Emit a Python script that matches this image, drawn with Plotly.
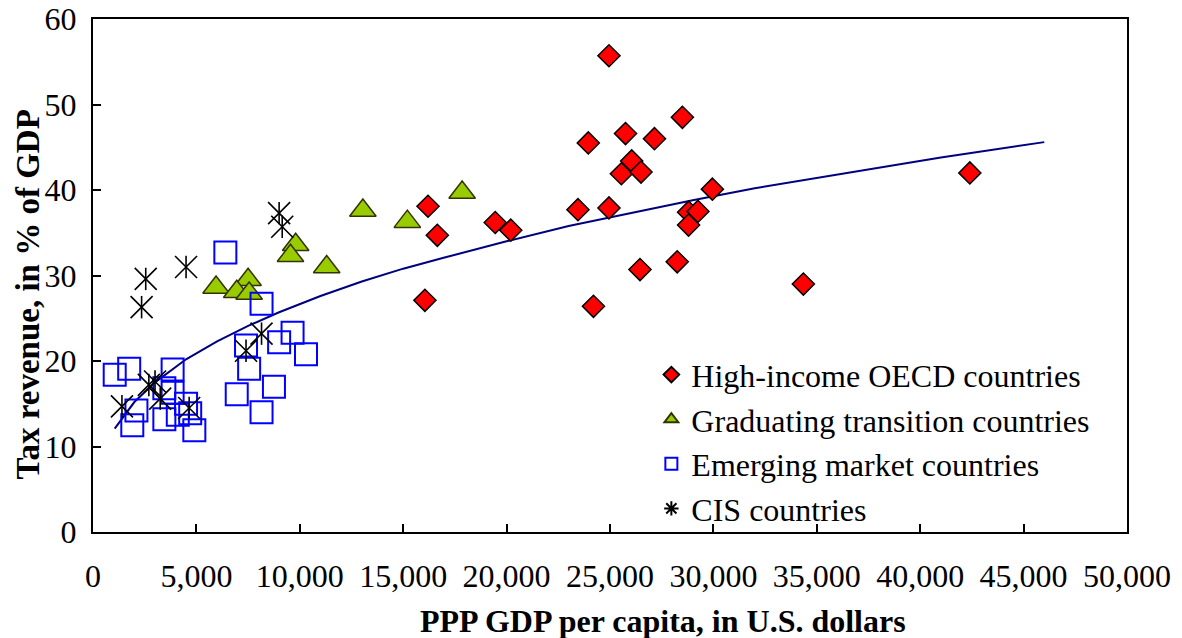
import plotly.graph_objects as go

# ---- data ----
oecd_x = [16200, 16650, 16050, 19450, 20200, 23450, 24950, 23950, 25750, 27150, 28500, 26050,
          25550, 26500, 24950, 29950, 28800, 29250, 28800, 26450, 28250, 24200, 42400, 34350]
oecd_y = [38.1, 34.7, 27.1, 36.2, 35.3, 37.7, 55.7, 45.5, 46.6, 46.0, 48.5, 43.4,
          41.9, 42.1, 37.9, 40.1, 37.4, 37.5, 35.9, 30.7, 31.6, 26.4, 42.0, 29.0]

grad_x = [9800, 9550, 11300, 5950, 7500, 6950, 7550, 13050, 15200, 17850]
grad_y = [33.6, 32.3, 31.0, 28.6, 29.5, 28.1, 27.9, 37.6, 36.3, 39.7]

emerg_x = [6400, 8150, 7400, 9650, 9000, 10300, 7550, 8750, 6950, 8150, 1050, 1750,
           3850, 3450, 3850, 2100, 1900, 3450, 4100, 4500, 4700, 4900]
emerg_y = [32.7, 26.7, 21.8, 23.3, 22.2, 20.8, 19.1, 17.0, 16.1, 14.0, 18.4, 19.1,
           19.0, 16.8, 16.3, 14.2, 12.5, 13.2, 13.7, 15.0, 13.9, 11.9]

cis_x = [9000, 9150, 2550, 2350, 4500, 8150, 7400, 3000, 2700, 3250, 1400, 4650]
cis_y = [37.3, 35.7, 29.6, 26.3, 31.0, 23.2, 21.2, 17.6, 17.2, 15.6, 14.7, 14.5]

trend_x = [1050, 2000, 3000, 4500, 6000, 7500, 9000, 11000, 13000, 15000, 17000, 20000,
           23000, 26000, 29000, 32000, 36000, 41000, 46000]
trend_y = [12.1, 15.2, 17.5, 20.2, 22.3, 24.1, 25.7, 27.6, 29.3, 30.8, 32.1, 34.0,
           35.8, 37.3, 38.8, 40.2, 41.8, 43.8, 45.6]

x_ticks = [0, 5000, 10000, 15000, 20000, 25000, 30000, 35000, 40000, 45000, 50000]
y_ticks = [0, 10, 20, 30, 40, 50, 60]

names = ["High-income OECD countries", "Graduating transition countries",
         "Emerging market countries", "CIS countries"]

FONT = "Liberation Serif, Times New Roman, serif"

fig = go.Figure()

fig.add_trace(go.Scatter(x=trend_x, y=trend_y, mode="lines", showlegend=False,
                         line=dict(color="#00007f", width=2), hoverinfo="skip"))

fig.add_trace(go.Scatter(x=oecd_x, y=oecd_y, mode="markers", name=names[0],
                         marker=dict(symbol="diamond", size=17, color="#ff0000",
                                     line=dict(color="#000000", width=1.5))))
fig.add_trace(go.Scatter(x=grad_x, y=grad_y, mode="markers", name=names[1],
                         marker=dict(symbol="triangle-up", size=23, color="#99cc00",
                                     line=dict(color="#333300", width=1.5))))
fig.add_trace(go.Scatter(x=emerg_x, y=emerg_y, mode="markers", name=names[2],
                         marker=dict(symbol="square-open", size=22, color="#0000ff",
                                     line=dict(color="#0000ff", width=2))))
# CIS: six-spoke asterisk built from an X and a vertical bar
fig.add_trace(go.Scatter(x=cis_x, y=cis_y, mode="markers", showlegend=False,
                         marker=dict(symbol="x-thin-open", size=22, color="#000000",
                                     line=dict(color="#000000", width=1.6))))
fig.add_trace(go.Scatter(x=cis_x, y=cis_y, mode="markers", showlegend=False,
                         marker=dict(symbol="line-ns-open", size=16, color="#000000",
                                     line=dict(color="#000000", width=1.6))))
# legend entry for CIS countries
fig.add_trace(go.Scatter(x=[None], y=[None], mode="markers", name=names[3],
                         marker=dict(symbol="asterisk-open", size=12, color="#000000",
                                     line=dict(color="#000000", width=1.3))))

W, H = 1174, 630
L, R, T, B = 85, 55, 11, 106
fig.update_layout(
    width=W, height=H,
    margin=dict(l=L, r=R, t=T, b=B, autoexpand=False),
    paper_bgcolor="white", plot_bgcolor="white",
    font=dict(family=FONT, size=32, color="black"),
    showlegend=True,
    legend=dict(x=0.54, y=0.36, xanchor="left", yanchor="top",
                bgcolor="rgba(0,0,0,0)", borderwidth=0,
                font=dict(family=FONT, size=32, color="black"),
                itemsizing="constant", tracegroupgap=0),
    xaxis=dict(range=[0, 50000], tickvals=x_ticks, tickformat=",d", automargin=False,
               showgrid=False, zeroline=False, showline=True, linecolor="black",
               linewidth=2, mirror=True, ticks="inside", ticklen=8, tickwidth=1.5,
               tickcolor="black", ticklabelstandoff=15, ticklabeloverflow="allow",
               tickfont=dict(family=FONT, size=32, color="black")),
    yaxis=dict(range=[0, 60], tickvals=y_ticks, automargin=False,
               showgrid=False, zeroline=False, showline=True, linecolor="black",
               linewidth=2, mirror=True, ticks="inside", ticklen=8, tickwidth=1.5,
               tickcolor="black", ticklabelstandoff=8, ticklabeloverflow="allow",
               tickfont=dict(family=FONT, size=32, color="black")),
    annotations=[
        dict(text="<b>PPP GDP per capita, in U.S. dollars</b>", xref="paper", yref="paper",
             x=(663 - 93) / 1034, y=(532 - 621) / 513, xanchor="center", yanchor="middle",
             showarrow=False, font=dict(family=FONT, size=32, color="black")),
        dict(text="<b>Tax revenue, in % of GDP</b>", xref="paper", yref="paper",
             x=(27.5 - 93) / 1034, y=(532 - 295) / 513, xanchor="center", yanchor="middle",
             textangle=-90, showarrow=False, font=dict(family=FONT, size=33, color="black")),
    ],
)

fig.write_html("out.html")
